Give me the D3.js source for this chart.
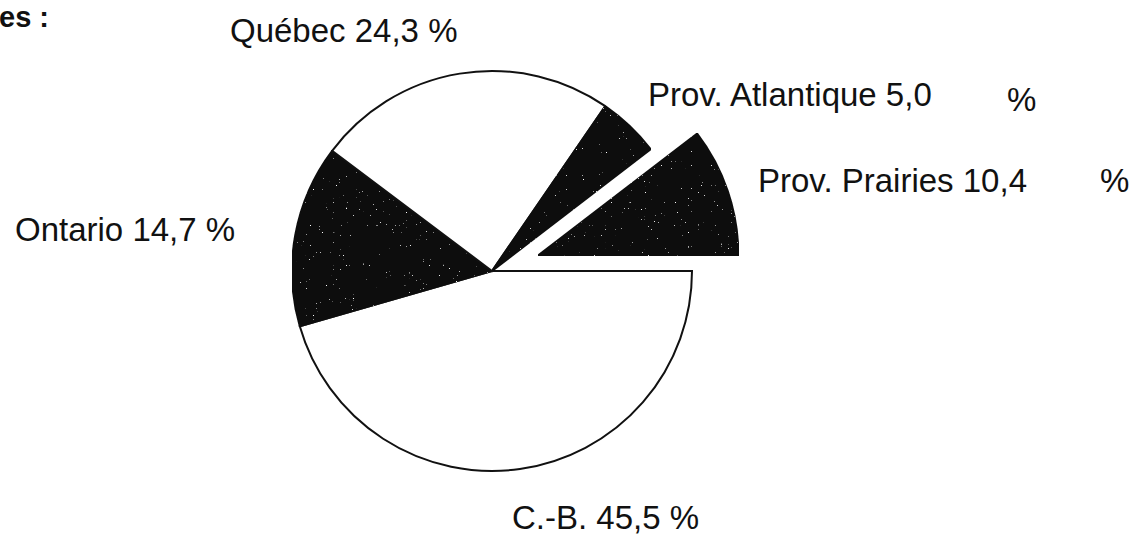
<!DOCTYPE html>
<html lang="fr">
<head>
<meta charset="utf-8">
<script src="https://d3js.org/d3.v7.min.js"></script>
<style>
  body { margin: 0; background: #fff; }
  text { font-family: "Liberation Sans", Arial, sans-serif; fill: #111; }
</style>
</head>
<body>
<script>

// slices, clockwise from 3 o'clock
var provinces = ["C.-B.", "Ontario", "Québec", "Prov. Atlantique", "Prov. Prairies"];
var shares = [45.5, 14.7, 24.3, 5.0, 10.4];
var fills = ["#fff", "#0c0c0c", "#fff", "#0c0c0c", "#0c0c0c"];
var exploded = ["Prov. Prairies"];

var width = 1133, height = 536;
var cx = 492, cy = 271, radius = 200, explode = 49;

// label layout (left x, baseline y); some have the % sign set apart
var labelPos = {
  "Québec":           {x: 230, y: 42},
  "Prov. Atlantique": {x: 648, y: 106, pctX: 1007, pctY: 111},
  "Prov. Prairies":   {x: 758, y: 192, pctX: 1100, pctY: 192},
  "Ontario":          {x: 15,  y: 241},
  "C.-B.":            {x: 512, y: 529}
};

var fr = d3.formatLocale({decimal: ",", thousands: " ", grouping: [3], currency: ["", " $"]});
var fmt = fr.format(".1f");

var svg = d3.select("body").append("svg")
  .attr("width", width)
  .attr("height", height);

// scanned look on the dark slices: a few light specks
var f = svg.append("defs").append("filter")
  .attr("id", "speckle")
  .attr("x", 0).attr("y", 0).attr("width", 1).attr("height", 1);
f.append("feTurbulence")
  .attr("type", "fractalNoise")
  .attr("baseFrequency", 0.7)
  .attr("numOctaves", 1)
  .attr("seed", 4)
  .attr("result", "noise");
f.append("feColorMatrix")
  .attr("in", "noise")
  .attr("type", "matrix")
  .attr("values", "0 0 0 0 1  0 0 0 0 1  0 0 0 0 1  14 0 0 0 -10.2")
  .attr("result", "dots");
f.append("feComposite")
  .attr("in", "dots").attr("in2", "SourceGraphic")
  .attr("operator", "in").attr("result", "dots2");
var m = f.append("feMerge");
m.append("feMergeNode").attr("in", "SourceGraphic");
m.append("feMergeNode").attr("in", "dots2");

// cut-off heading at top left
svg.append("text")
  .attr("x", -1)
  .attr("y", 27)
  .style("font-size", "29px")
  .style("font-weight", "bold")
  .text("es :");

var data = provinces.map(function(p, i) { return {name: p, value: shares[i], fill: fills[i]}; });

var pie = d3.pie()
  .sort(null)
  .value(function(d) { return d.value; })
  .startAngle(Math.PI / 2)
  .endAngle(Math.PI / 2 + 2 * Math.PI);

var arc = d3.arc().innerRadius(0).outerRadius(radius);

var g = svg.append("g").attr("transform", "translate(" + cx + "," + cy + ")");

g.selectAll("path")
  .data(pie(data))
  .enter()
  .append("path")
  .attr("d", arc)
  .attr("transform", function(d) {
    if (exploded.indexOf(d.data.name) < 0) return null;
    var a = (d.startAngle + d.endAngle) / 2;
    return "translate(" + (Math.sin(a) * explode) + "," + (-Math.cos(a) * explode) + ")";
  })
  .attr("filter", function(d) { return d.data.fill === "#fff" ? null : "url(#speckle)"; })
  .style("fill", function(d) { return d.data.fill; })
  .style("stroke", "#111")
  .style("stroke-width", 2)
  .style("stroke-linejoin", "miter");

// labels
data.forEach(function(d) {
  var p = labelPos[d.name];
  var txt = d.name + " " + fmt(d.value);
  if (p.pctX == null) txt += " %";
  svg.append("text")
    .attr("x", p.x)
    .attr("y", p.y)
    .style("font-size", "33px")
    .text(txt);
  if (p.pctX != null) {
    svg.append("text")
      .attr("x", p.pctX)
      .attr("y", p.pctY)
      .style("font-size", "33px")
      .text("%");
  }
});

</script>
</body>
</html>
